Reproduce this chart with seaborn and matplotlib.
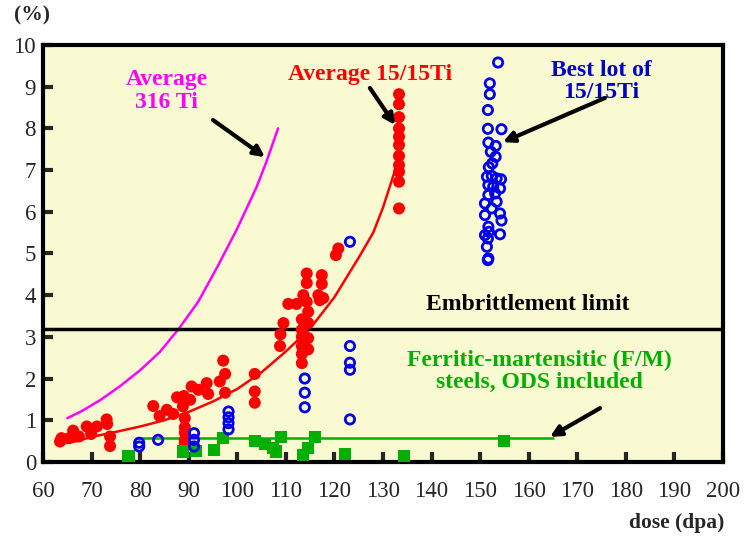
"""
Swelling vs dose for cladding steels (recreated chart).
"""

import pandas as pd
import matplotlib
matplotlib.use("Agg")
import matplotlib.pyplot as plt
import seaborn as sns

# --- data ---
red_dose = [63.5, 63.8, 65.4, 66.2, 67.4, 69.0, 69.9, 71.1, 73.1, 73.2, 73.8, 73.8,
            82.7, 84.0, 85.5, 86.8, 87.6, 88.8, 89.0, 90.3, 90.6,
            89.2, 89.2, 89.2, 89.2, 89.2, 89.2,
            92.0, 93.7, 94.0, 96.4, 97.1, 97.5, 97.5, 103.6, 103.6, 103.6,
            108.8, 108.9, 109.5, 110.5, 112.2,
            113.3, 113.3, 113.3, 113.3, 113.3, 113.3, 113.6,
            114.3, 114.3, 114.3, 114.6, 114.6, 114.6, 114.6,
            116.7, 117.0, 117.4, 117.4, 117.7, 120.3, 120.8,
            133.3, 133.3, 133.3, 133.3, 133.3, 133.3, 133.3, 133.3, 133.3, 133.3, 133.3]
red_swell = [0.49, 0.57, 0.57, 0.75, 0.61, 0.85, 0.67, 0.85, 1.02, 0.91, 0.61, 0.38,
             1.34, 1.10, 1.25, 1.15, 1.55, 1.33, 1.58, 1.49, 1.81,
             1.05, 0.83, 0.70, 0.53, 0.45, 0.37,
             1.73, 1.89, 1.63, 1.93, 2.43, 2.11, 1.66, 2.11, 1.69, 1.42,
             2.78, 3.06, 3.33, 3.79, 3.79,
             2.37, 2.59, 2.78, 3.00, 3.17, 3.42, 4.00,
             4.52, 4.29, 3.84, 3.60, 3.33, 2.97, 2.70,
             4.00, 3.88, 4.48, 4.27, 3.93, 4.96, 5.12,
             8.82, 8.58, 8.27, 8.00, 7.80, 7.60, 7.34, 7.12, 6.96, 6.72, 6.08]

blue_dose = [79.8, 79.8, 83.7, 91.1, 91.1, 91.1, 98.2, 98.2, 98.2, 98.2,
             113.9, 113.9, 113.9, 123.2, 123.2, 123.2, 123.2, 123.2,
             153.7, 152.0, 152.0, 151.6, 151.6, 154.4, 151.7, 153.2, 152.2, 153.2,
             152.5, 151.8, 151.4, 152.4, 153.4, 154.3, 151.7, 152.7, 154.1, 151.7,
             153.1, 151.0, 153.4, 152.4, 151.0, 154.1, 154.4, 151.7, 151.0, 151.8,
             154.1, 151.6, 151.4, 151.7, 151.6]
blue_swell = [0.46, 0.37, 0.53, 0.69, 0.53, 0.37, 1.21, 1.07, 0.93, 0.78,
              2.00, 1.66, 1.31, 5.28, 2.78, 2.38, 2.21, 1.02,
              9.58, 9.08, 8.82, 8.44, 7.99, 7.98, 7.66, 7.58, 7.44, 7.32,
              7.16, 7.07, 6.84, 6.86, 6.80, 6.78, 6.64, 6.60, 6.56, 6.40,
              6.44, 6.20, 6.24, 6.08, 5.92, 5.96, 5.79, 5.64, 5.44, 5.52,
              5.46, 5.36, 5.16, 4.88, 4.84]

green_dose = [77.6, 88.9, 91.6, 95.2, 97.1, 103.6, 105.7, 107.4, 108.0, 109.1,
              113.5, 114.6, 116.0, 122.2, 134.3, 155.0]
green_swell = [0.14, 0.25, 0.26, 0.29, 0.57, 0.51, 0.43, 0.33, 0.25, 0.60,
               0.17, 0.33, 0.60, 0.19, 0.15, 0.50]

# trend curves (traced points)
fit_1515_dose = [63.5, 67, 70, 75, 80, 85, 90, 95, 100, 105, 110, 115, 120, 125, 128, 130, 132.5]
fit_1515_swell = [0.43, 0.50, 0.60, 0.72, 0.85, 1.00, 1.20, 1.45, 1.75, 2.15, 2.65,
                  3.20, 3.95, 4.90, 5.50, 6.10, 7.00]

fit_316_dose = [65, 68, 72, 76, 80, 84, 88, 92, 96, 100, 104, 106, 108.4]
fit_316_swell = [1.05, 1.22, 1.50, 1.83, 2.20, 2.63, 3.20, 3.85, 4.70, 5.60, 6.60, 7.20, 8.00]

fm_dose = [79.4, 165.0]
fm_swell = [0.57, 0.57]

LIMIT = 3.2
x_ticks = list(range(60, 201, 10))
y_ticks = list(range(0, 11))


def main():
    sns.set_style("ticks")
    plt.rcParams["font.family"] = ["Liberation Serif", "DejaVu Serif"]

    fig = plt.figure(figsize=(7.48, 5.39), dpi=100)
    ax = fig.add_axes([0.0575, 0.143, 0.909, 0.7735])
    ax.set_facecolor("#fafad2")

    # trend lines
    sns.lineplot(x=fit_316_dose, y=fit_316_swell, ax=ax, color="#ff00ff", lw=1.8, sort=False)
    sns.lineplot(x=fit_1515_dose, y=fit_1515_swell, ax=ax, color="#ff0000", lw=1.8, sort=False)
    sns.lineplot(x=fm_dose, y=fm_swell, ax=ax, color="#00b000", lw=1.8)

    # data points
    sns.scatterplot(x=red_dose, y=red_swell, ax=ax, color="#ff0000", s=75,
                    edgecolor="none", zorder=3)
    sns.scatterplot(x=blue_dose, y=blue_swell, ax=ax, facecolor="none",
                    edgecolor="#0000ee", linewidth=2, s=45, zorder=4)
    sns.scatterplot(x=green_dose, y=green_swell, ax=ax, color="#00b000", marker="s",
                    s=75, edgecolor="none", zorder=3)

    ax.axhline(LIMIT, color="black", lw=2.5, zorder=2)

    # labels
    bold = dict(fontsize=17, fontweight="bold", ha="center", va="center", linespacing=1.08)
    ax.text(85.5, 8.9, "Average\n316 Ti", color="#ff00ff", **bold)
    ax.text(127.3, 9.3, "Average 15/15Ti", color="#ff0000", **bold)
    ax.text(174.9, 9.13, "Best lot of\n15/15Ti", color="#0000cc", **bold)
    ax.text(159.9, 3.77, "Embrittlement limit", color="black", **bold)
    ax.text(162.3, 2.17, "Ferritic-martensitic (F/M)\nsteels, ODS included",
            color="#00b000", **bold)

    arrow = dict(arrowstyle="-|>", color="black", lw=3, mutation_scale=16,
                 shrinkA=0, shrinkB=0)
    ax.annotate("", xy=(105.7, 7.31), xytext=(95.0, 8.2), arrowprops=arrow)
    ax.annotate("", xy=(132.5, 8.08), xytext=(127.3, 8.97), arrowprops=arrow)
    ax.annotate("", xy=(154.7, 7.67), xytext=(175.7, 8.73), arrowprops=arrow)
    ax.annotate("", xy=(164.4, 0.6), xytext=(174.7, 1.29), arrowprops=arrow)

    ax.set_xlim(60, 200)
    ax.set_ylim(0, 10)
    ax.set_xticks(x_ticks)
    ax.set_yticks(y_ticks)
    ax.tick_params(direction="in", length=7, width=3, labelsize=16.5)
    ax.tick_params(axis="x", pad=14)
    ax.tick_params(axis="y", pad=5)
    for sp in ax.spines.values():
        sp.set_linewidth(3)
        sp.set_color("black")
        sp.set_visible(True)

    ax.set_xlabel("")
    ax.set_ylabel("")
    fig.text(0.968, 0.03, "dose (dpa)", ha="right", va="center",
             fontsize=15.5, fontweight="bold")
    fig.text(0.043, 0.972, "(%)", ha="center", va="center",
             fontsize=15.5, fontweight="bold")

    fig.savefig("out.png", dpi=100)
    plt.close(fig)


if __name__ == "__main__":
    main()
